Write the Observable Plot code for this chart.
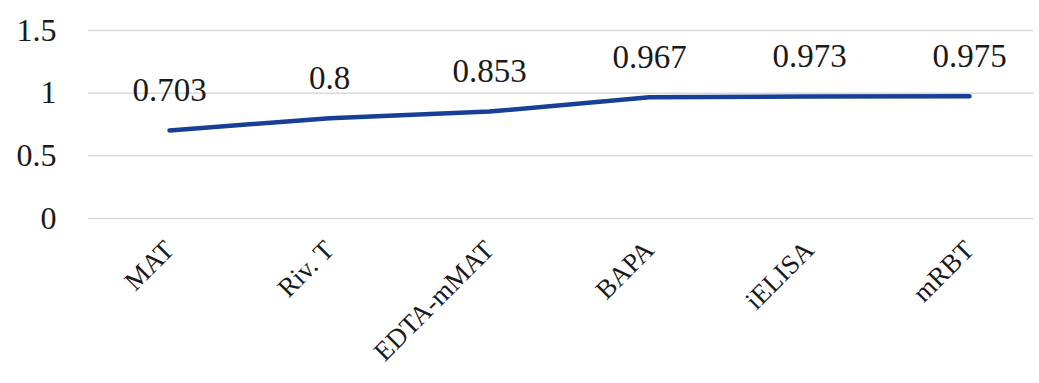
<!DOCTYPE html>
<html><head><meta charset="utf-8">
<script src="https://cdn.jsdelivr.net/npm/d3@7"></script>
<script src="https://cdn.jsdelivr.net/npm/@observablehq/plot@0.6"></script>
<style>body{margin:0;background:#fff}</style>
</head><body><div id="chart"></div>
<script>
const categories = ["MAT", "Riv. T", "EDTA-mMAT", "BAPA", "iELISA", "mRBT"];
const values = [0.703, 0.8, 0.853, 0.967, 0.973, 0.975];
const valueLabels = ["0.703", "0.8", "0.853", "0.967", "0.973", "0.975"];
const yTicks = [0, 0.5, 1, 1.5];

const data = categories.map((c, i) => ({cat: c, v: values[i], label: valueLabels[i]}));
const serif = "'Liberation Serif', 'Times New Roman', serif";

const chart = Plot.plot({
  width: 1039,
  height: 383,
  marginTop: 30,
  marginBottom: 165,
  marginLeft: 88,
  marginRight: 6,
  style: {fontFamily: serif, color: "#1a1a1a", background: "#fff"},
  x: {type: "point", domain: categories, range: [167, 970], padding: 0},
  y: {domain: [0, 1.5]},
  marks: [
    Plot.gridY(yTicks, {stroke: "#d9d9d9", strokeOpacity: 1, strokeWidth: 1.5}),
    Plot.axisY({ticks: yTicks, tickSize: 0, tickPadding: 32, fontSize: 32, fontFamily: serif, tickFormat: d => String(d), label: null}),
    Plot.axisX({tickSize: 0, tickRotate: -45, tickPadding: 27, fontSize: 27, fontFamily: serif, label: null}),
    Plot.line(data, {x: "cat", y: "v", stroke: "#173f95", strokeWidth: 4.5}),
    Plot.text(data, {x: "cat", y: "v", text: "label", dy: -40, fontSize: 33, fontFamily: serif, lineAnchor: "middle", fill: "#1a1a1a"})
  ]
});
document.getElementById("chart").appendChild(chart);
</script>
</body></html>
